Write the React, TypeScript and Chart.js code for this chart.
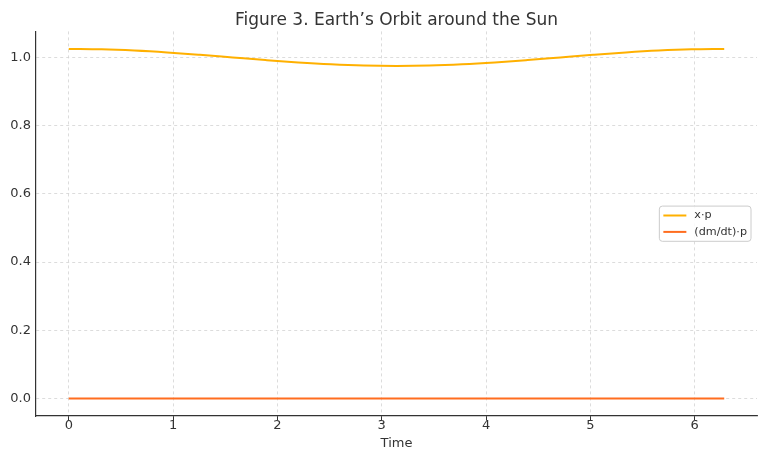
import React, { useEffect, useRef } from "react";
import { Chart, registerables } from "chart.js";

Chart.register(...registerables);

const TITLE = "Figure 3. Earth’s Orbit around the Sun";
const X_LABEL = "Time";
const SERIES_LABELS = ["x·p", "(dm/dt)·p"];
const SERIES_COLORS = ["#ffb000", "#ff6d1f"];

const times = [
  0, 0.3142, 0.6283, 0.9425, 1.2566, 1.5708, 1.885, 2.1991, 2.5133, 2.8274,
  3.1416, 3.4558, 3.7699, 4.0841, 4.3982, 4.7124, 5.0265, 5.3407, 5.6549,
  5.969, 6.2832,
];
const xDotP = [
  1.025, 1.0238, 1.0202, 1.0147, 1.0077, 1.0, 0.9923, 0.9853, 0.9798, 0.9762,
  0.975, 0.9762, 0.9798, 0.9853, 0.9923, 1.0, 1.0077, 1.0147, 1.0202, 1.0238,
  1.025,
];
const dmdtDotP = [
  0, 0, 0, 0, 0, 0, 0, 0, 0, 0, 0, 0, 0, 0, 0, 0, 0, 0, 0, 0, 0,
];

const FONT = "'DejaVu Sans', Verdana, sans-serif";
const TEXT = "#333333";

const legendPlugin = {
  id: "mplLegend",
  afterDraw(chart: any) {
    const { ctx, chartArea } = chart;
    const ds = chart.data.datasets;
    const fontSize = 11.2;
    ctx.save();
    ctx.font = `${fontSize}px ${FONT}`;
    const rowH = 16.4;
    const lineLen = 23;
    const pad = 4;
    let maxW = 0;
    ds.forEach((d: any) => {
      maxW = Math.max(maxW, ctx.measureText(d.label).width);
    });
    const w = pad + lineLen + 8 + maxW + 4;
    const h = ds.length * rowH + 2.4;
    const x = chartArea.right - 6 - w;
    const y = (chartArea.top + chartArea.bottom) / 2 - h / 2;
    ctx.beginPath();
    const r = 3;
    ctx.moveTo(x + r, y);
    ctx.lineTo(x + w - r, y);
    ctx.quadraticCurveTo(x + w, y, x + w, y + r);
    ctx.lineTo(x + w, y + h - r);
    ctx.quadraticCurveTo(x + w, y + h, x + w - r, y + h);
    ctx.lineTo(x + r, y + h);
    ctx.quadraticCurveTo(x, y + h, x, y + h - r);
    ctx.lineTo(x, y + r);
    ctx.quadraticCurveTo(x, y, x + r, y);
    ctx.closePath();
    ctx.fillStyle = "rgba(255,255,255,0.85)";
    ctx.fill();
    ctx.strokeStyle = "#cccccc";
    ctx.lineWidth = 1;
    ctx.stroke();
    ds.forEach((d: any, i: number) => {
      const cy = y + 1.2 + rowH * i + rowH / 2;
      ctx.beginPath();
      ctx.strokeStyle = d.borderColor;
      ctx.lineWidth = 2;
      ctx.moveTo(x + pad, cy);
      ctx.lineTo(x + pad + lineLen, cy);
      ctx.stroke();
      ctx.fillStyle = TEXT;
      ctx.textBaseline = "middle";
      ctx.textAlign = "left";
      ctx.fillText(d.label, x + pad + lineLen + 8, cy);
    });
    ctx.restore();
  },
};

export default function App() {
  const ref = useRef<HTMLCanvasElement | null>(null);
  useEffect(() => {
    if (!ref.current) return;
    const seriesValues = [xDotP, dmdtDotP];
    const chart = new Chart(ref.current, {
      type: "line",
      data: {
        datasets: SERIES_LABELS.map((label, i) => ({
          label,
          data: times.map((t, j) => ({ x: t, y: seriesValues[i][j] })),
          borderColor: SERIES_COLORS[i],
          backgroundColor: SERIES_COLORS[i],
          borderWidth: 2,
          pointRadius: 0,
          cubicInterpolationMode: "monotone" as const,
          fill: false,
        })),
      },
      options: {
        responsive: false,
        animation: false,
        layout: { padding: { left: 0, right: 11, top: 0, bottom: 0 } },
        plugins: {
          legend: { display: false },
          tooltip: { enabled: false },
          title: {
            display: true,
            text: TITLE,
            fullSize: false,
            color: TEXT,
            font: { family: FONT, size: 17, weight: "normal" },
            padding: { top: 10, bottom: 1 },
          },
        },
        scales: {
          x: {
            type: "linear",
            min: -0.3142,
            max: 6.5974,
            afterFit(scale: any) {
              scale.height = 45;
            },
            ticks: {
              stepSize: 1,
              includeBounds: false,
              color: TEXT,
              font: { family: FONT, size: 13 },
              padding: -2,
              maxRotation: 0,
              callback: (v: any) => String(v),
            },
            grid: {
              color: "#d3d3d3",
              lineWidth: 0.8,
              tickLength: 4,
              tickColor: "#333333",
              tickWidth: 1,
            },
            border: { display: true, color: "#333333", width: 1.2, dash: [3, 3] },
            title: {
              display: true,
              text: X_LABEL,
              color: TEXT,
              font: { family: FONT, size: 13 },
              padding: { top: 0, bottom: 10 },
            },
          },
          y: {
            type: "linear",
            min: -0.05125,
            max: 1.07625,
            afterFit(scale: any) {
              scale.width = 36;
            },
            ticks: {
              stepSize: 0.2,
              includeBounds: false,
              color: TEXT,
              font: { family: FONT, size: 13 },
              padding: 5,
              callback: (v: any) => Number(v).toFixed(1),
            },
            grid: {
              color: "#d3d3d3",
              lineWidth: 0.8,
              drawTicks: false,
            },
            border: { display: true, color: "#333333", width: 1.2, dash: [3, 3] },
          },
        },
      },
      plugins: [legendPlugin],
    });
    return () => chart.destroy();
  }, []);
  return (
    <div style={{ position: "fixed", left: 0, top: 0, width: 768, height: 461, background: "#fff" }}>
      <canvas ref={ref} width={768} height={461} style={{ display: "block" }} />
    </div>
  );
}
